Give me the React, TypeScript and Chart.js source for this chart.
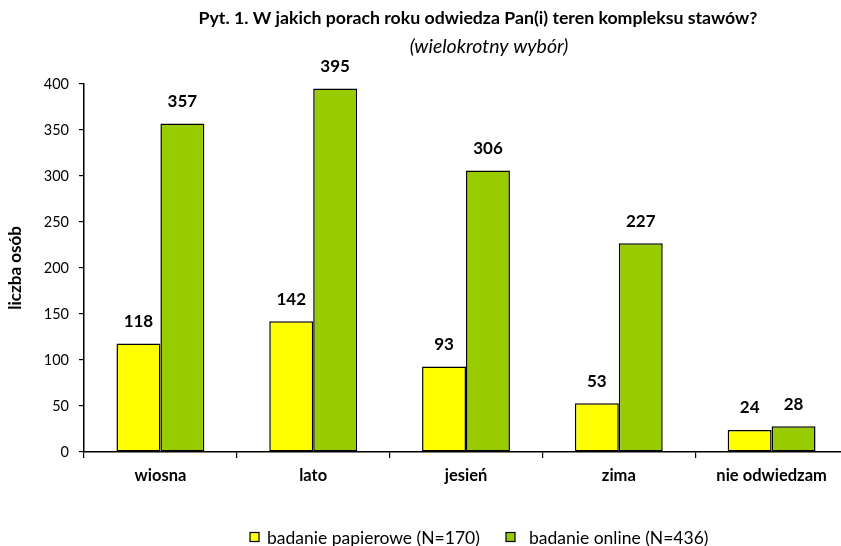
import React, { useEffect, useRef } from "react";
import { Chart, registerables } from "chart.js";

Chart.register(...registerables);

const categories = ["wiosna", "lato", "jesień", "zima", "nie odwiedzam"];
const paperValues = [118, 142, 93, 53, 24];
const onlineValues = [357, 395, 306, 227, 28];
const seriesNames = ["badanie papierowe (N=170)", "badanie online (N=436)"];
const seriesColors = ["#FFFF00", "#99CC00"];
const titleText = "Pyt. 1. W jakich porach roku odwiedza Pan(i) teren kompleksu stawów?";
const subtitleText = "(wielokrotny wybór)";
const yTitle = "liczba osób";
const FONT = "Lato, 'Liberation Sans', sans-serif";

const overlayPlugin = {
  id: "overlay",
  afterDatasetsDraw(chart: any) {
    const ctx = chart.ctx;
    ctx.save();
    ctx.fillStyle = "#000";
    // data labels
    ctx.font = `bold 17px ${FONT}`;
    ctx.textAlign = "center";
    ctx.textBaseline = "middle";
    chart.data.datasets.forEach((ds: any, di: number) => {
      const meta = chart.getDatasetMeta(di);
      meta.data.forEach((el: any, i: number) => {
        ctx.fillText(String(ds.data[i]), el.x, el.y - 22);
      });
    });
    // title
    ctx.font = `bold 17.7px ${FONT}`;
    ctx.fillText(titleText, 478, 18);
    ctx.font = `italic 19.5px ${FONT}`;
    ctx.fillText(subtitleText, 489, 47);
    // legend
    const ly = 537;
    const items = [
      { x: 250, tx: 267, label: seriesNames[0], color: seriesColors[0] },
      { x: 506, tx: 529, label: seriesNames[1], color: seriesColors[1] },
    ];
    ctx.textAlign = "left";
    ctx.font = `17.5px ${FONT}`;
    items.forEach((it) => {
      ctx.fillStyle = it.color;
      ctx.fillRect(it.x, ly - 4.5, 9, 9);
      ctx.strokeStyle = "#000";
      ctx.lineWidth = 1.2;
      ctx.strokeRect(it.x, ly - 4.5, 9, 9);
      ctx.fillStyle = "#000";
      ctx.fillText(it.label, it.tx, ly + 1);
    });
    ctx.restore();
  },
};

export default function App() {
  const ref = useRef<HTMLCanvasElement>(null);
  useEffect(() => {
    if (!ref.current) return;
    const common = {
      borderColor: "#000",
      borderWidth: 1.5,
      borderSkipped: false,
      categoryPercentage: 0.575,
      barPercentage: 1,
    };
    const chart = new Chart(ref.current, {
      type: "bar",
      data: {
        labels: categories,
        datasets: [
          { label: seriesNames[0], data: paperValues, backgroundColor: seriesColors[0], ...common },
          { label: seriesNames[1], data: onlineValues, backgroundColor: seriesColors[1], ...common },
        ],
      },
      options: {
        animation: false,
        responsive: false,
        maintainAspectRatio: false,
        layout: { padding: { top: 84, right: 12, left: 0, bottom: 0 } },
        plugins: {
          legend: { display: false },
          title: { display: false },
          tooltip: { enabled: false },
        },
        scales: {
          x: {
            grid: {
              display: true,
              drawOnChartArea: false,
              offset: true,
              tickLength: 6,
              color: "#000",
              lineWidth: 1.2,
            },
            border: { color: "#000", width: 1.5 },
            ticks: {
              color: "#000",
              font: { family: FONT, size: 16.5, weight: "bold" },
              padding: 8,
              maxRotation: 0,
            },
            afterFit(scale: any) {
              scale.height = 94;
            },
          },
          y: {
            min: 0,
            max: 400,
            grid: {
              display: true,
              drawOnChartArea: false,
              tickLength: 5,
              color: "#000",
              lineWidth: 1.2,
            },
            border: { color: "#000", width: 1.5 },
            ticks: {
              stepSize: 50,
              color: "#000",
              font: { family: FONT, size: 14.5 },
              padding: 10,
            },
            title: {
              display: true,
              text: yTitle,
              color: "#000",
              font: { family: FONT, size: 17, weight: "bold" },
              padding: { top: 5, bottom: 0 },
            },
            afterFit(scale: any) {
              scale.width = 84;
            },
          },
        },
      },
      plugins: [overlayPlugin],
    });
    return () => chart.destroy();
  }, []);
  return (
    <div
      style={{
        position: "fixed",
        left: 0,
        top: 0,
        width: 841,
        height: 546,
        overflow: "hidden",
        background: "#fff",
      }}
    >
      <canvas ref={ref} width={860} height={546} style={{ width: 860, height: 546 }} />
    </div>
  );
}
